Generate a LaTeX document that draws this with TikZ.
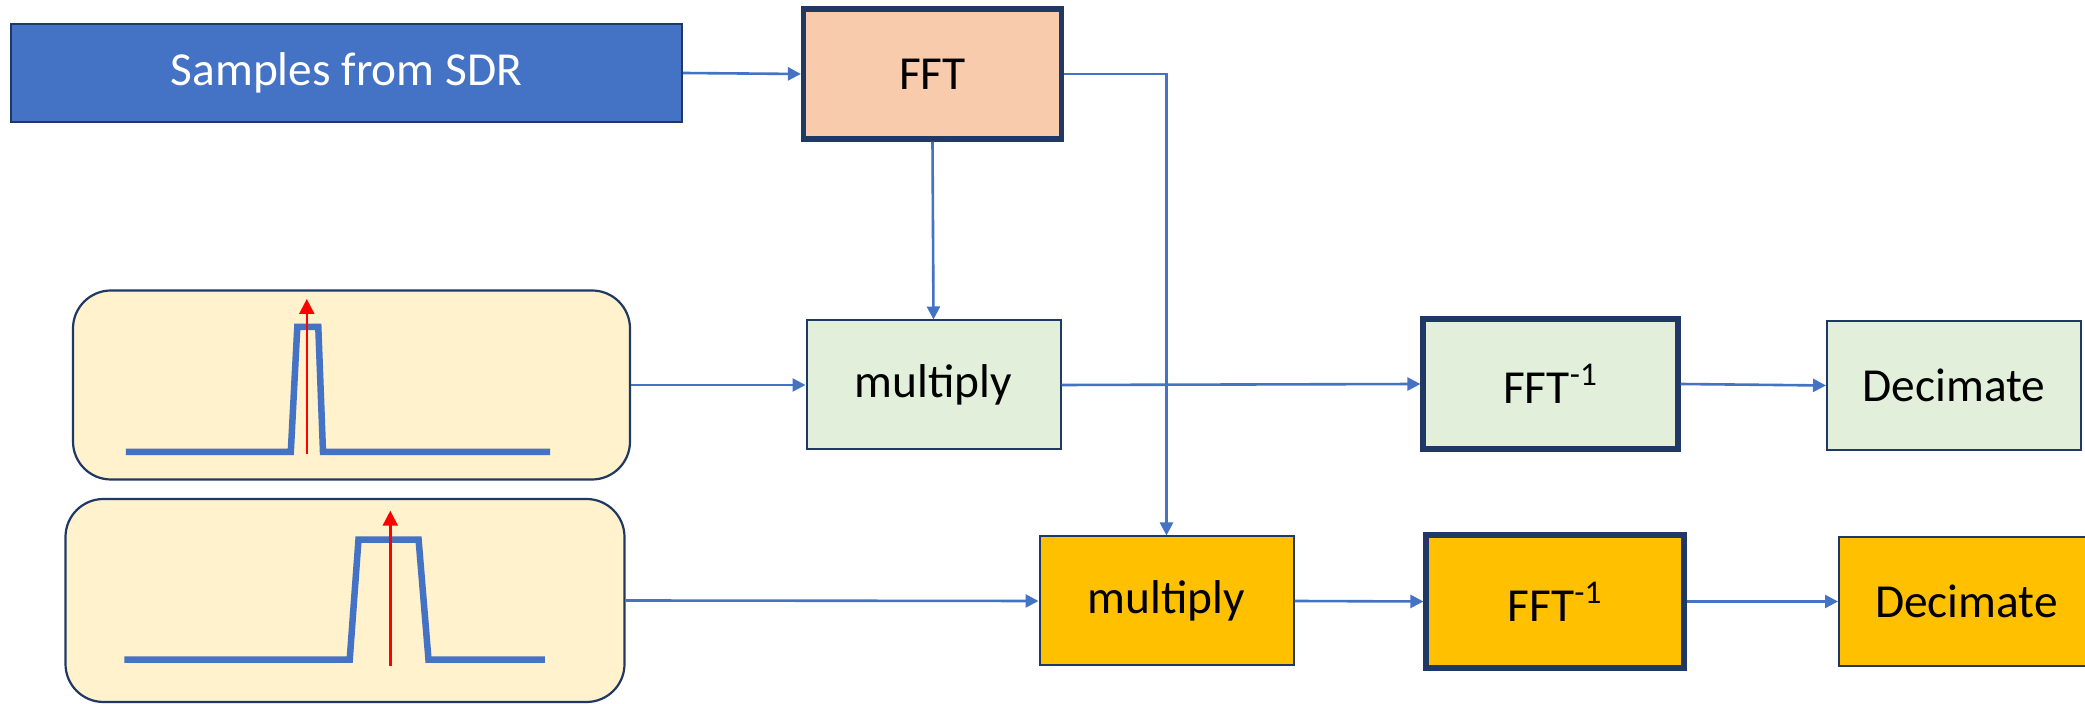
\documentclass[tikz,border=0pt]{standalone}
\usepackage{fontspec}
\setmainfont{Carlito}
\usetikzlibrary{arrows.meta}
\definecolor{navy}{HTML}{1F3864}
\definecolor{sblue}{HTML}{4472C4}
\definecolor{peach}{HTML}{F8CBAD}
\definecolor{lgreen}{HTML}{E2EFDA}
\definecolor{gold}{HTML}{FFC000}
\definecolor{cream}{HTML}{FFF2CC}
\tikzset{
  box/.style={draw=navy, line width=1pt, inner sep=0pt, font=\fontsize{23.7pt}{28pt}\selectfont},
  thickbox/.style={box, line width=2.6pt},
  filterbox/.style={draw=navy, line width=1.1pt, fill=cream, rounded corners=19pt, inner sep=0pt},
  conn/.style={draw=sblue, line width=1.3pt, -{Triangle[length=6.5pt,width=6.5pt]}},
  spec/.style={draw=sblue, line width=3.25pt},
  carrier/.style={draw=red, line width=1.2pt, -{Triangle[length=7.5pt,width=7.5pt]}}
}
\begin{document}
\begin{tikzpicture}[x=0.5pt, y=-0.5pt]
\useasboundingbox (0,0) rectangle (2085,704);
% nodes
\node[box, fill=sblue, text=white, minimum width=335.5pt, minimum height=49pt] (samples) at (346.5,73) {Samples from SDR};
\node[thickbox, fill=peach, minimum width=129pt, minimum height=65pt] (fft) at (932.5,74) {FFT};
\node[box, fill=lgreen, minimum width=127pt, minimum height=64.5pt] (mult1) at (933.5,385) {multiply};
\node[filterbox, minimum width=278.5pt, minimum height=94.5pt] (filt1) at (351.5,385) {};
\node[thickbox, fill=lgreen, minimum width=127.5pt, minimum height=65pt] (inv1) at (1550.5,384) {FFT\textsuperscript{-1}};
\node[box, fill=lgreen, minimum width=127pt, minimum height=64.5pt] (dec1) at (1954,385.5) {Decimate};
\node[filterbox, minimum width=279.5pt, minimum height=101.5pt] (filt2) at (345,600.5) {};
\node[box, fill=gold, minimum width=127pt, minimum height=64.5pt] (mult2) at (1166.5,601) {multiply};
\node[thickbox, fill=gold, minimum width=129pt, minimum height=66.5pt] (inv2) at (1555,601.5) {FFT\textsuperscript{-1}};
\node[box, fill=gold, minimum width=127.5pt, minimum height=64.5pt] (dec2) at (1966.5,601.5) {Decimate};
% filter shapes
\draw[spec] (125.8,452) -- (290.8,452) -- (297.3,327) -- (318.3,327) -- (323,452) -- (550,452);
\draw[carrier] (306.8,454) -- (306.8,299);
\draw[spec] (124.3,659.7) -- (349.7,659.7) -- (358.5,539.7) -- (418.6,539.7) -- (428.5,659.7) -- (544.9,659.7);
\draw[carrier] (390.3,666) -- (390.3,510.7);
% connectors
\draw[conn] (samples.east) -- (fft.west);
\draw[conn] (fft.south) -- (mult1.north);
\draw[conn] (fft.east) -| (mult2.north);
\draw[conn] (filt1.east) -- (mult1.west);
\draw[conn] (mult1.east) -- (inv1.west);
\draw[conn] (inv1.east) -- (dec1.west);
\draw[conn] (filt2.east) -- (mult2.west);
\draw[conn] (mult2.east) -- (inv2.west);
\draw[conn] (inv2.east) -- (dec2.west);
\end{tikzpicture}
\end{document}
